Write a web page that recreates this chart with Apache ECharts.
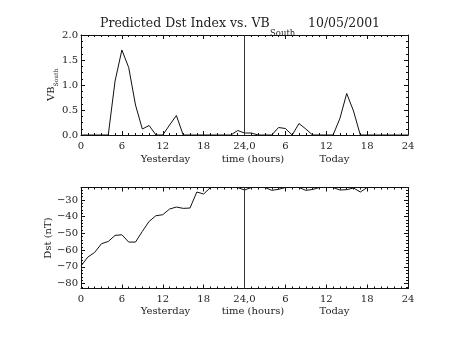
<!DOCTYPE html>
<html><head><meta charset="utf-8">
<script src="https://cdn.jsdelivr.net/npm/echarts@6/dist/echarts.min.js"></script>
<style>html,body{margin:0;padding:0;background:#fff}#c{width:454px;height:341px}</style>
</head><body><div id="c"></div>
<script>
// Hour index 0..48 spans "yesterday" 0-24 and "today" 0-24
const xTickLabels = ['0','6','12','18','24,0','6','12','18','24'];
const vbSouth = [0,0,0,0,0,1.08,1.70,1.35,0.60,0.12,0.19,0,0,0.20,0.39,0,0,0,0,0,0,0,0,0.09,0.04,0.04,0,0,0,0.15,0.13,0,0.23,0.12,0,0,0,0,0.33,0.83,0.48,0,0,0,0,0,0,0,0];
const dst = [-69.5,-64.2,-61.4,-56.2,-54.8,-51.2,-50.8,-55.2,-55.2,-48.8,-42.8,-39.4,-38.8,-35.4,-34.2,-35,-34.8,-25.2,-26.4,-22.5,-22.5,-22.5,-22.5,-22.5,-24,-22.5,-22.5,-22.5,-24.2,-23.6,-22.5,-22.5,-22.5,-24.2,-23.7,-22.5,-22.5,-22.5,-24,-23.8,-22.8,-25.2,-22.5];
const vbTickLabels = ['0.0','0.5','1.0','1.5','2.0'];
const dstTickLabels = ['−80','−70','−60','−50','−40','−30'];
const dayLabels = ['Yesterday','time (hours)','Today'];
const titleMain = 'Predicted Dst Index vs. VB';
const titleSub = 'South';
const titleDate = '10/05/2001';

const FONT = 'DejaVu Serif';
const INK = '#111';
const chart = echarts.init(document.getElementById('c'), null, {renderer:'canvas'});

function xAxisPair(gi){
  const base = {type:'value', min:0, max:48, interval:6, gridIndex:gi,
    axisLine:{show:true, onZero:false, lineStyle:{color:INK,width:1}},
    splitLine:{show:false},
    axisTick:{show:true, inside:true, length:4, lineStyle:{color:INK}},
    minorTick:{show:true, splitNumber:6, length:2, lineStyle:{color:INK}}};
  return [
    Object.assign({}, base, {position:'bottom',
      axisLabel:{show:true, margin:6, color:'#222', fontFamily:FONT, fontSize:10,
        formatter:v=>xTickLabels[Math.round(v/6)]}}),
    Object.assign({}, base, {position:'top', axisLabel:{show:false}})
  ];
}

const yBase = {axisLine:{show:true, onZero:false, lineStyle:{color:INK,width:1}}, splitLine:{show:false},
  axisTick:{show:true, inside:true, length:4, lineStyle:{color:INK}}};

const option = {
  animation:false,
  grid:[
    {left:81, top:35, width:327, height:100},
    {left:81, top:187.5, width:327, height:101}
  ],
  xAxis:[...xAxisPair(0), ...xAxisPair(1)],
  yAxis:[
    Object.assign({}, yBase, {gridIndex:0, type:'value', min:0, max:2, interval:0.5, position:'left',
      minorTick:{show:true, splitNumber:4, length:2, lineStyle:{color:INK}},
      axisLabel:{margin:3, color:'#222', fontFamily:FONT, fontSize:10, padding:[0,0,5,0],
        formatter:v=>vbTickLabels[Math.round(v/0.5)]}}),
    Object.assign({}, yBase, {gridIndex:0, type:'value', min:0, max:2, interval:0.5, position:'right',
      minorTick:{show:true, splitNumber:4, length:2, lineStyle:{color:INK}},
      axisLabel:{show:false}}),
    Object.assign({}, yBase, {gridIndex:1, type:'value', min:-83, max:-22.5, splitNumber:5, position:'left',
      minorTick:{show:true, splitNumber:5, length:2, lineStyle:{color:INK}},
      axisLabel:{margin:3, color:'#222', fontFamily:FONT, fontSize:10, padding:[0,0,5,0],
        showMinLabel:false, showMaxLabel:false,
        formatter:v=>{const i=Math.round((v+80)/10); return (Math.abs(v-(-80+10*i))<0.01 && dstTickLabels[i])?dstTickLabels[i]:'';}}}),
    Object.assign({}, yBase, {gridIndex:1, type:'value', min:-83, max:-22.5, splitNumber:5, position:'right',
      minorTick:{show:true, splitNumber:5, length:2, lineStyle:{color:INK}},
      axisLabel:{show:false}})
  ],
  series:[
    {type:'line', xAxisIndex:0, yAxisIndex:0, data:vbSouth.map((v,i)=>[i,v]),
     symbol:'none', lineStyle:{color:INK,width:1}, clip:true,
     markLine:{silent:true, symbol:'none', label:{show:false}, lineStyle:{color:'#333',width:1,type:'solid'}, data:[{xAxis:24}]}},
    {type:'line', xAxisIndex:2, yAxisIndex:2, data:dst.map((v,i)=>[i,v]),
     symbol:'none', lineStyle:{color:INK,width:1}, clip:true,
     markLine:{silent:true, symbol:'none', label:{show:false}, lineStyle:{color:'#333',width:1,type:'solid'}, data:[{xAxis:24}]}}
  ],
  graphic:[
    {type:'text', left:100, top:17, style:{text:titleMain, font:'12.5px "'+FONT+'"', fill:'#222'}},
    {type:'text', left:270, top:29, style:{text:titleSub, font:'8.5px "'+FONT+'"', fill:'#222'}},
    {type:'text', left:308, top:17, style:{text:titleDate, font:'12.5px "'+FONT+'"', fill:'#222'}},
    {type:'text', x:165.5, y:159, style:{text:dayLabels[0], font:'10px "'+FONT+'"', fill:'#222', align:'center', verticalAlign:'middle'}},
    {type:'text', x:253, y:159, style:{text:dayLabels[1], font:'10px "'+FONT+'"', fill:'#222', align:'center', verticalAlign:'middle'}},
    {type:'text', x:334.5, y:159, style:{text:dayLabels[2], font:'10px "'+FONT+'"', fill:'#222', align:'center', verticalAlign:'middle'}},
    {type:'text', x:165.5, y:311.5, style:{text:dayLabels[0], font:'10px "'+FONT+'"', fill:'#222', align:'center', verticalAlign:'middle'}},
    {type:'text', x:253, y:311.5, style:{text:dayLabels[1], font:'10px "'+FONT+'"', fill:'#222', align:'center', verticalAlign:'middle'}},
    {type:'text', x:334.5, y:311.5, style:{text:dayLabels[2], font:'10px "'+FONT+'"', fill:'#222', align:'center', verticalAlign:'middle'}},
    {type:'group', x:51.5, y:101, rotation:Math.PI/2, children:[
      {type:'text', x:0, y:0, style:{text:'VB', font:'10px "'+FONT+'"', fill:'#222', align:'left', verticalAlign:'middle'}},
      {type:'text', x:14.5, y:5, style:{text:'South', font:'6px "'+FONT+'"', fill:'#222', align:'left', verticalAlign:'middle'}}
    ]},
    {type:'text', x:48.5, y:238, rotation:Math.PI/2, style:{text:'Dst (nT)', font:'10px "'+FONT+'"', fill:'#222', align:'center', verticalAlign:'middle'}}
  ]
};
chart.setOption(option);
</script></body></html>
